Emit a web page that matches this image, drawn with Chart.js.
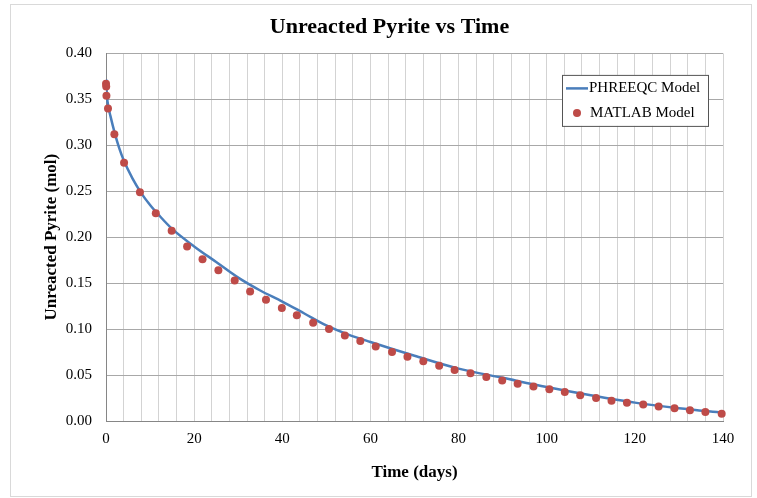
<!DOCTYPE html>
<html>
<head>
<meta charset="utf-8">
<script src="https://cdn.jsdelivr.net/npm/chart.js@4.4.1/dist/chart.umd.min.js"></script>
<style>
    body { margin: 0; background: #fff; }
    #wrap { width: 757px; height: 498px; }
</style>
</head>
<body>
<div id="wrap"><canvas id="pyriteChart" width="757" height="498"></canvas></div>
<script>
// PHREEQC model curve (days, mol)
const phreeqcDays = [0, 0.25, 0.5, 1, 2, 3, 4, 6, 8, 10, 12, 15, 20, 25, 30, 35, 40, 45, 50, 55, 60, 70, 80, 90, 100, 110, 120, 130, 140];
const phreeqcVals = [0.372, 0.352, 0.343, 0.332, 0.313, 0.297, 0.284, 0.264, 0.248, 0.235, 0.224, 0.209, 0.190, 0.173, 0.156, 0.142, 0.130, 0.117, 0.104, 0.094, 0.086, 0.071, 0.057, 0.047, 0.037, 0.028, 0.020, 0.014, 0.009];

// MATLAB model points
const matlabDays = [0, 0.05, 0.1, 0.45, 1.9, 4.1, 7.7, 11.3, 14.9, 18.4, 21.9, 25.5, 29.2, 32.7, 36.3, 39.9, 43.3, 47.0, 50.6, 54.2, 57.7, 61.2, 64.9, 68.4, 72.0, 75.6, 79.1, 82.7, 86.3, 89.9, 93.4, 97.0, 100.6, 104.1, 107.6, 111.2, 114.7, 118.2, 121.9, 125.4, 129.0, 132.5, 136.0, 139.7];
const matlabVals = [0.367, 0.364, 0.354, 0.340, 0.312, 0.281, 0.249, 0.226, 0.207, 0.190, 0.176, 0.164, 0.153, 0.141, 0.132, 0.123, 0.115, 0.107, 0.100, 0.093, 0.087, 0.081, 0.075, 0.070, 0.065, 0.060, 0.0555, 0.052, 0.048, 0.044, 0.0405, 0.0375, 0.0345, 0.0315, 0.028, 0.025, 0.022, 0.0199, 0.018, 0.0158, 0.0138, 0.0118, 0.0099, 0.0080];

// axis ticks
const xTickLabels = [0, 20, 40, 60, 80, 100, 120, 140];
const yTickLabels = [0, 0.05, 0.10, 0.15, 0.20, 0.25, 0.30, 0.35, 0.40];

const serif = "'Liberation Serif', 'DejaVu Serif', serif";
const blue = "#4a7ebb";
const red = "#be4b48";

const toPoints = (xs, ys) => xs.map((x, i) => ({ x: x, y: ys[i] }));

// frame round the whole picture
const framePlugin = {
    id: "frame",
    beforeDraw(chart) {
        const ctx = chart.ctx;
        ctx.save();
        ctx.fillStyle = "#fff";
        ctx.fillRect(0, 0, chart.width, chart.height);
        ctx.strokeStyle = "#d9d9d9";
        ctx.lineWidth = 1;
        ctx.strokeRect(10.5, 4.5, 741, 492);
        ctx.restore();
    }
};

// legend box inside the plot, top right
const boxLegend = {
    id: "boxLegend",
    afterDraw(chart) {
        const ctx = chart.ctx;
        const area = chart.chartArea;
        const w = 146, h = 51;
        const x = area.right - 15 - w;
        const y = area.top + 21.5;
        ctx.save();
        ctx.fillStyle = "#fff";
        ctx.fillRect(x, y, w, h);
        ctx.strokeStyle = "#555";
        ctx.lineWidth = 1;
        ctx.strokeRect(x + 0.5, y + 0.5, w, h);

        const ds = chart.data.datasets;
        ctx.font = "15px " + serif;
        ctx.fillStyle = "#000";
        ctx.textBaseline = "middle";

        // line entry
        ctx.strokeStyle = ds[0].borderColor;
        ctx.lineWidth = 2.5;
        ctx.beginPath();
        ctx.moveTo(x + 4, y + 13.5);
        ctx.lineTo(x + 26, y + 13.5);
        ctx.stroke();
        ctx.fillText(ds[0].label, x + 27, y + 13.5);

        // point entry
        ctx.fillStyle = ds[1].backgroundColor;
        ctx.beginPath();
        ctx.arc(x + 15, y + 38, 4, 0, Math.PI * 2);
        ctx.fill();
        ctx.fillStyle = "#000";
        ctx.fillText(ds[1].label, x + 28, y + 38);
        ctx.restore();
    }
};

const ctx = document.getElementById("pyriteChart");
new Chart(ctx, {
    type: "scatter",
    data: {
        datasets: [{
            label: "PHREEQC Model",
            data: toPoints(phreeqcDays, phreeqcVals),
            showLine: true,
            borderColor: blue,
            backgroundColor: blue,
            borderWidth: 2.5,
            pointRadius: 0,
            cubicInterpolationMode: "monotone",
            order: 1
        }, {
            label: "MATLAB Model",
            data: toPoints(matlabDays, matlabVals),
            showLine: false,
            backgroundColor: red,
            borderColor: red,
            borderWidth: 0,
            pointRadius: 4,
            clip: false,
            order: 0
        }]
    },
    options: {
        responsive: false,
        animation: false,
        devicePixelRatio: 1,
        // left padding keeps the title centred where the original has it
        layout: { padding: { left: 56, right: 34, top: 0, bottom: 0 } },
        plugins: {
            legend: { display: false },
            tooltip: { enabled: false },
            title: {
                display: true,
                text: "Unreacted Pyrite vs Time",
                color: "#000",
                font: { family: serif, size: 22, weight: "bold" },
                padding: { top: 14, bottom: 13 }
            }
        },
        scales: {
            x: {
                type: "linear",
                min: 0,
                max: 140,
                afterFit(scale) { scale.height = 77; },
                ticks: {
                    stepSize: 4,
                    autoSkip: false,
                    maxRotation: 0,
                    padding: 9,
                    color: "#000",
                    font: { family: serif, size: 15 },
                    callback: v => xTickLabels.includes(v) ? String(v) : ""
                },
                grid: { color: "#d3d3d3", lineWidth: 1, drawTicks: false },
                border: { color: "#868686", width: 1 },
                title: {
                    display: true,
                    text: "Time (days)",
                    color: "#000",
                    font: { family: serif, size: 17, weight: "bold" },
                    padding: { top: 4, bottom: 15 }
                }
            },
            y: {
                min: 0,
                max: 0.4,
                afterFit(scale) { scale.width = 50; },
                afterBuildTicks(scale) { scale.ticks = yTickLabels.map(v => ({ value: v })); },
                ticks: {
                    padding: 14,
                    color: "#000",
                    font: { family: serif, size: 15 },
                    callback: v => v.toFixed(2)
                },
                grid: { color: "#a8a8a8", lineWidth: 1, drawTicks: false },
                border: { color: "#868686", width: 1 },
                title: {
                    display: true,
                    text: "Unreacted Pyrite (mol)",
                    color: "#000",
                    font: { family: serif, size: 17, weight: "bold" },
                    padding: { top: -15, bottom: 0 }
                }
            }
        }
    },
    plugins: [framePlugin, boxLegend]
});
</script>
</body>
</html>
